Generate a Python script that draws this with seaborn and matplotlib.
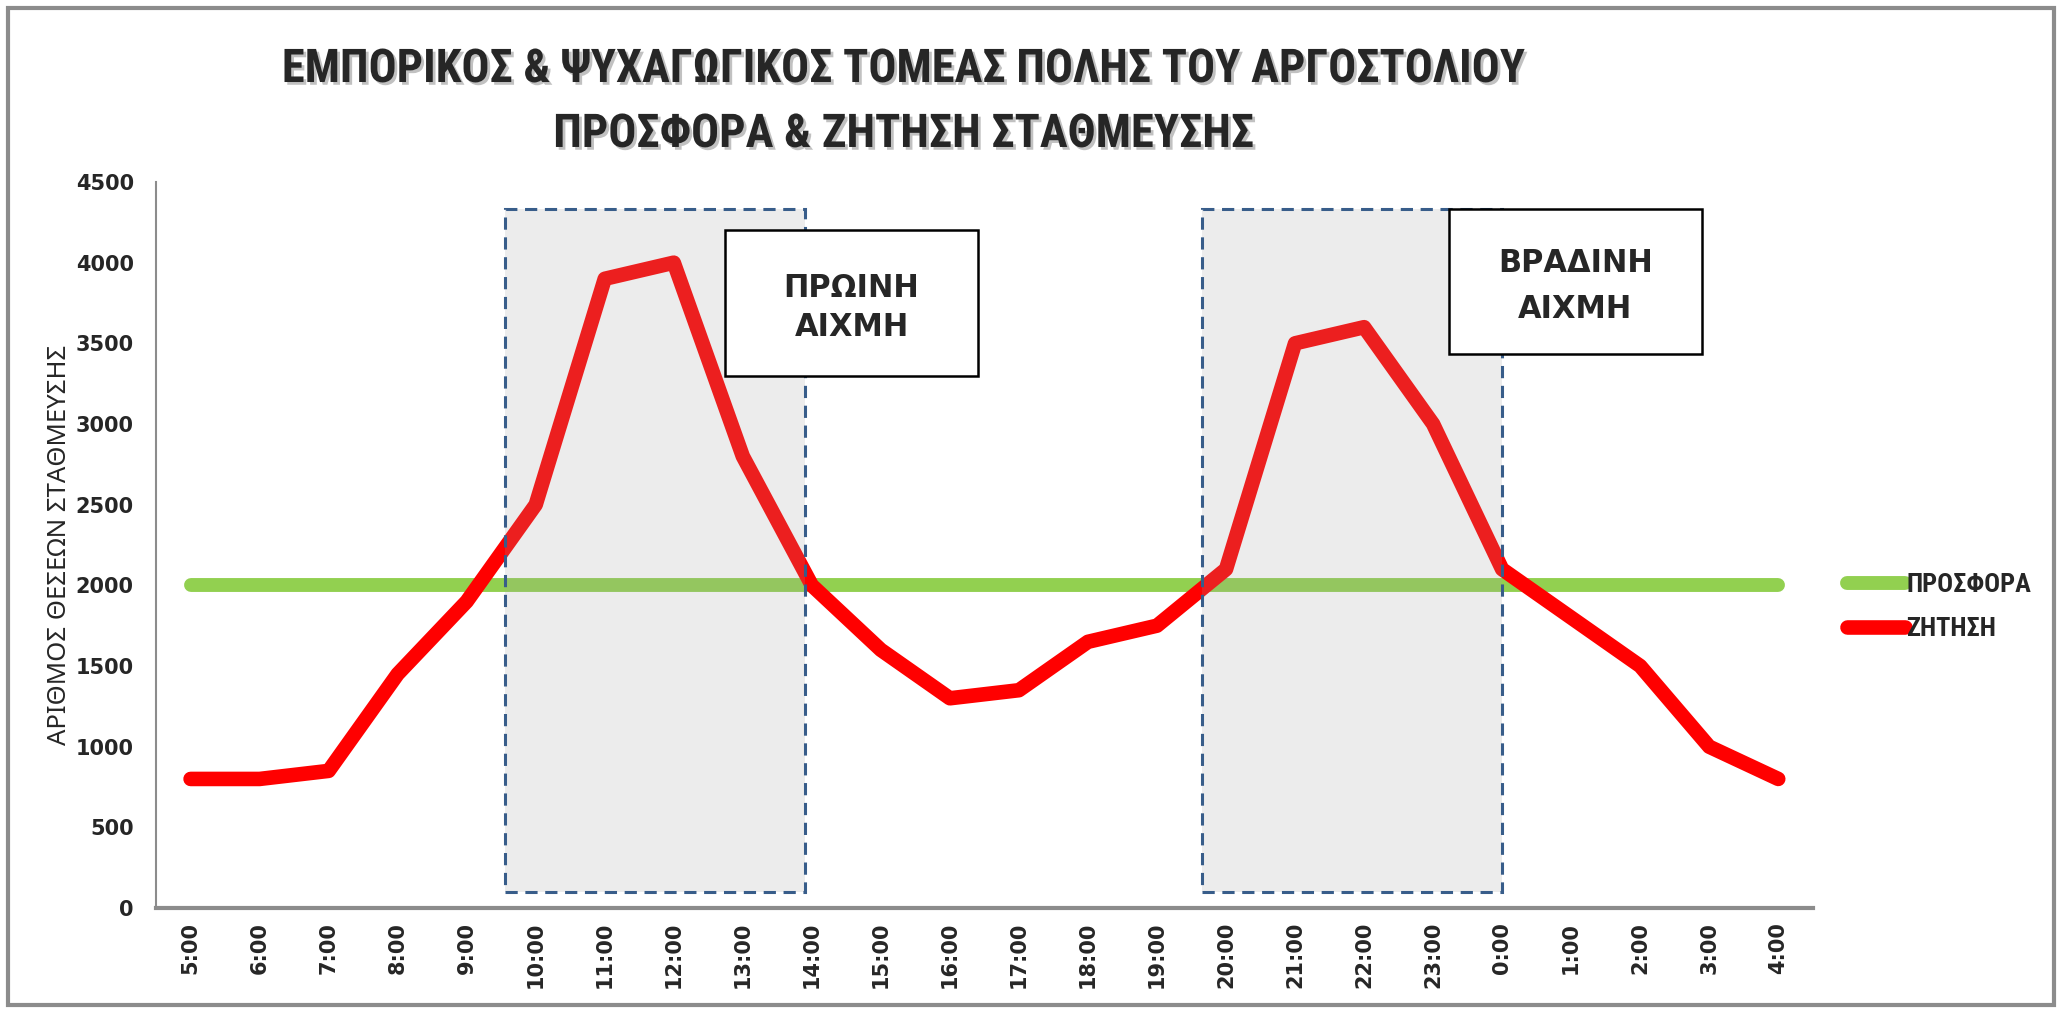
import matplotlib.pyplot as plt
import matplotlib.patheffects as pe
from matplotlib import font_manager
from matplotlib.patches import Rectangle
import seaborn as sns
import pandas as pd

sns.set_theme(style="white")

names = {f.name for f in font_manager.fontManager.ttflist}


def pick(*cands):
    for c in cands:
        if c in names:
            return c
    return 'DejaVu Sans'


narrow = pick('Liberation Sans Narrow', 'Roboto Condensed', 'Open Sans Condensed', 'Roboto')
plt.rcParams['font.family'] = ['DejaVu Sans']

hours = ['5:00', '6:00', '7:00', '8:00', '9:00', '10:00', '11:00', '12:00',
         '13:00', '14:00', '15:00', '16:00', '17:00', '18:00', '19:00', '20:00',
         '21:00', '22:00', '23:00', '0:00', '1:00', '2:00', '3:00', '4:00']
supply = [2000, 2000, 2000, 2000, 2000, 2000, 2000, 2000, 2000, 2000, 2000, 2000,
          2000, 2000, 2000, 2000, 2000, 2000, 2000, 2000, 2000, 2000, 2000, 2000]
demand = [800, 800, 850, 1450, 1900, 2500, 3900, 4000, 2800, 2000, 1600, 1300,
          1350, 1650, 1750, 2100, 3500, 3600, 3000, 2100, 1800, 1500, 1000, 800]
series_names = ['ΠΡΟΣΦΟΡΑ', 'ΖΗΤΗΣΗ']
peak_labels = ['ΠΡΩΙΝΗ\nΑΙΧΜΗ', 'ΒΡΑΔΙΝΗ\nΑΙΧΜΗ']

df = pd.DataFrame({'pos': range(len(hours)), 'hour': hours,
                   series_names[0]: supply, series_names[1]: demand})

fig = plt.figure(figsize=(20.67, 10.15), dpi=100)
ax = fig.add_axes([0.0755, 0.1054, 0.8015, 0.7153])

sns.lineplot(data=df, x='pos', y=series_names[0], ax=ax, color='#92d050',
             linewidth=10, solid_capstyle='round', label=series_names[0], zorder=2)
sns.lineplot(data=df, x='pos', y=series_names[1], ax=ax, color='#ff0000',
             linewidth=10.5, solid_capstyle='round', solid_joinstyle='round',
             label=series_names[1], zorder=3)

ax.set_xlim(-0.5, len(hours) - 0.5)
ax.set_ylim(0, 4500)
ax.set_yticks(range(0, 4501, 500))
ax.set_xticks(df['pos'])
ax.set_xticklabels(hours, rotation=90, fontsize=15, fontweight='bold')
for lab in ax.get_yticklabels():
    lab.set_fontsize(15)
    lab.set_fontweight('bold')
ax.tick_params(axis='x', length=0, pad=10)
ax.tick_params(axis='y', length=0, pad=16)
ax.set_xlabel('')
ax.set_ylabel('ΑΡΙΘΜΟΣ ΘΕΣΕΩΝ ΣΤΑΘΜΕΥΣΗΣ', fontsize=18.5, family='Noto Sans', labelpad=3)

for side in ['top', 'right']:
    ax.spines[side].set_visible(False)
ax.spines['left'].set_color('#8c8c8c')
ax.spines['left'].set_linewidth(1.5)
ax.spines['bottom'].set_color('#8c8c8c')
ax.spines['bottom'].set_linewidth(3)

# peak periods
for x0, x1 in [(4.56, 8.9), (14.65, 19.0)]:
    ax.add_patch(Rectangle((x0, 100), x1 - x0, 4331 - 100, facecolor='#a0a0a0', alpha=0.2,
                           edgecolor='none', zorder=4))
    ax.add_patch(Rectangle((x0, 100), x1 - x0, 4331 - 100, facecolor='none',
                           edgecolor='#385d8a', linewidth=2.2, linestyle=(0, (4, 2.5)), zorder=4))

for (x0, x1, y0, y1), txt, ls in zip([(7.74, 11.41, 3296, 4201), (18.23, 21.89, 3432, 4331)],
                                     peak_labels, [1.4, 1.75]):
    ax.add_patch(Rectangle((x0, y0), x1 - x0, y1 - y0, facecolor='white',
                           edgecolor='black', linewidth=1.8, zorder=5))
    ax.text((x0 + x1) / 2, (y0 + y1) / 2 - 30, txt, ha='center', va='center', fontsize=22,
            fontweight='bold', linespacing=ls, zorder=6)

leg = ax.legend(loc='center left', bbox_to_anchor=(0.8936, 0.402), bbox_transform=fig.transFigure,
                frameon=False, borderpad=0, borderaxespad=0, handlelength=2.2,
                handletextpad=0.05, labelspacing=0.75,
                prop={'family': narrow, 'weight': 'bold', 'size': 19})

shadow = [pe.withSimplePatchShadow(offset=(2, -2), shadow_rgbFace='#999999', alpha=0.6)]
fig.text(0.437, 0.932, 'ΕΜΠΟΡΙΚΟΣ & ΨΥΧΑΓΩΓΙΚΟΣ ΤΟΜΕΑΣ ΠΟΛΗΣ ΤΟΥ ΑΡΓΟΣΤΟΛΙΟΥ', ha='center', va='center',
         fontsize=33.5, fontweight='bold', family=narrow, path_effects=shadow)
fig.text(0.437, 0.868, 'ΠΡΟΣΦΟΡΑ & ΖΗΤΗΣΗ ΣΤΑΘΜΕΥΣΗΣ', ha='center', va='center',
         fontsize=33.5, fontweight='bold', family=narrow, path_effects=shadow)

fig.add_artist(Rectangle((0.0039, 0.0099), 0.9898, 0.982, transform=fig.transFigure,
                         fill=False, edgecolor='#8c8c8c', linewidth=3))

plt.savefig('out.png', dpi=100)
